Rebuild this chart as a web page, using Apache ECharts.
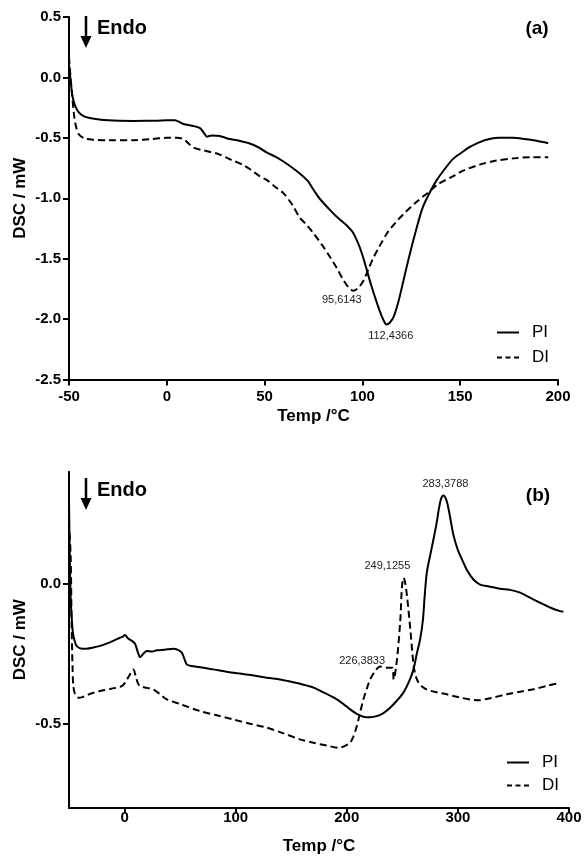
<!DOCTYPE html>
<html>
<head>
<meta charset="utf-8">
<script src="https://cdn.jsdelivr.net/npm/echarts@6/dist/echarts.min.js"></script>
<style>
  html, body { margin: 0; padding: 0; background: #fff; }
  #dsc { width: 585px; height: 856px; }
</style>
</head>
<body>
<div id="dsc"></div>
<script>
// (a) DSC curves, temp in °C, signal in mW
var piTempA = [-50, -49, -48.3, -47, -45, -42, -38, -30, -17, -5, 0, 4, 6, 8.5, 13, 17, 19, 20.5, 23, 27, 31, 36, 42, 47, 51, 56, 60, 64, 68, 72, 75, 78, 83.6, 88, 92, 95, 98, 100, 102, 104.5, 107.5, 110, 112.4, 114, 116, 118.5, 121, 123.5, 126, 128.5, 131, 134.5, 138, 142, 146, 150, 155, 160, 165, 170, 177, 183, 189, 195];
var piValA  = [0.10, -0.05, -0.15, -0.23, -0.29, -0.325, -0.34, -0.355, -0.36, -0.358, -0.355, -0.355, -0.365, -0.385, -0.40, -0.42, -0.46, -0.49, -0.48, -0.485, -0.505, -0.52, -0.545, -0.58, -0.62, -0.66, -0.70, -0.745, -0.795, -0.855, -0.93, -1.00, -1.10, -1.17, -1.225, -1.28, -1.38, -1.47, -1.58, -1.72, -1.87, -1.98, -2.045, -2.03, -1.98, -1.85, -1.68, -1.51, -1.35, -1.20, -1.07, -0.95, -0.85, -0.76, -0.68, -0.63, -0.575, -0.535, -0.51, -0.50, -0.50, -0.51, -0.525, -0.545];
var diTempA = [-50, -49.2, -48.6, -47.5, -46.5, -45, -42, -38, -30, -17, -8, 0, 5, 8.5, 11, 13.6, 19, 25.6, 30, 34, 38.5, 42.6, 47.7, 51.2, 55, 59.7, 64, 68, 71.5, 75, 79.5, 83.6, 87, 90.4, 93, 95.5, 98, 100.6, 103, 105.7, 109, 112.6, 117, 121.1, 127, 133, 139, 145, 151.8, 160.3, 168, 177.4, 186, 195];
var diValA  = [0.17, 0.0, -0.11, -0.30, -0.40, -0.47, -0.505, -0.515, -0.52, -0.52, -0.51, -0.50, -0.50, -0.51, -0.545, -0.58, -0.605, -0.63, -0.66, -0.69, -0.72, -0.76, -0.82, -0.85, -0.90, -0.96, -1.05, -1.16, -1.22, -1.29, -1.39, -1.49, -1.58, -1.68, -1.74, -1.765, -1.74, -1.68, -1.59, -1.49, -1.39, -1.29, -1.20, -1.13, -1.04, -0.96, -0.88, -0.83, -0.77, -0.72, -0.69, -0.67, -0.66, -0.66];
var peakTempA = [95.6143, 112.4366];
var peakValA  = [-1.765, -2.045];

// (b)
var piTempB = [-50, -49.3, -48.5, -47.6, -46.5, -45.2, -43, -38, -34, -28, -22, -15, -7, -2, 0.5, 3, 7, 9.5, 12, 14, 17, 20, 25, 29, 36, 44, 48, 51.5, 54, 56, 60, 68, 80, 98, 115, 128, 140, 150, 158, 165, 170, 180, 191, 197, 203, 209, 215, 221, 227, 233, 239, 245, 251, 256, 260, 263, 266, 268.5, 270, 272, 275, 278, 281, 283, 285, 287.2, 289.5, 291.7, 294, 296.2, 300, 303.7, 308, 314, 320, 328, 338, 347, 356, 365, 374, 383, 392, 395];
var piValB  = [0.30, 0.10, -0.05, -0.12, -0.175, -0.20, -0.223, -0.232, -0.232, -0.228, -0.222, -0.212, -0.198, -0.19, -0.183, -0.195, -0.205, -0.215, -0.245, -0.262, -0.25, -0.24, -0.242, -0.238, -0.236, -0.232, -0.236, -0.246, -0.27, -0.288, -0.294, -0.298, -0.306, -0.318, -0.327, -0.336, -0.342, -0.35, -0.357, -0.365, -0.371, -0.39, -0.413, -0.43, -0.449, -0.465, -0.475, -0.477, -0.473, -0.462, -0.443, -0.418, -0.389, -0.35, -0.306, -0.25, -0.199, -0.13, -0.05, 0.039, 0.10, 0.158, 0.22, 0.27, 0.305, 0.315, 0.30, 0.265, 0.215, 0.17, 0.12, 0.087, 0.05, 0.015, -0.003, -0.01, -0.018, -0.022, -0.032, -0.05, -0.068, -0.085, -0.098, -0.10];
var diTempB = [-49.5, -48.5, -47.6, -46.8, -46.1, -44.5, -41.6, -38, -30, -22, -12, -2.5, 1, 4, 7.9, 10, 12, 14, 20, 26, 32, 38, 50, 68, 83, 98, 113, 128, 140, 158, 170, 182, 192.6, 198, 203, 206, 209, 212, 215, 218, 221, 225, 230, 235, 240.8, 242.2, 245.2, 248.2, 249.7, 251.2, 252.7, 254.2, 257.2, 260.2, 262.5, 264.7, 268, 272, 280, 290, 300, 317, 330, 344, 356, 368, 380, 392];
var diValB  = [0.18, 0.10, -0.15, -0.30, -0.366, -0.395, -0.407, -0.405, -0.392, -0.383, -0.375, -0.366, -0.35, -0.33, -0.306, -0.33, -0.355, -0.366, -0.372, -0.378, -0.395, -0.413, -0.43, -0.455, -0.47, -0.485, -0.50, -0.514, -0.53, -0.556, -0.568, -0.578, -0.586, -0.58, -0.568, -0.545, -0.509, -0.46, -0.413, -0.375, -0.342, -0.315, -0.296, -0.30, -0.30, -0.342, -0.27, -0.128, -0.009, 0.021, 0.0, -0.044, -0.163, -0.294, -0.335, -0.354, -0.368, -0.378, -0.387, -0.395, -0.405, -0.416, -0.408, -0.395, -0.386, -0.377, -0.365, -0.354];
var peakTempB = [226.3833, 249.1255, 283.3788];
var peakValB  = [-0.296, 0.021, 0.315];

var xTicksB = [0, 100, 200, 300, 400];
var yTicksB = [-0.5, 0];

var FONT = '"Liberation Sans", Arial, Helvetica, sans-serif';

// legend keys: a plain bar and a dashed bar, 22 x 2
var ICON_SOLID = 'path://M0,0h22v2h-22z';
var ICON_DASH = 'path://M0,0h5v2h-5z M8.5,0h5v2h-5z M17,0h5v2h-5z';

function pairs(xs, ys) {
    var out = [];
    for (var i = 0; i < xs.length; i++) out.push([xs[i], ys[i]]);
    return out;
}

// peak labels sit next to the extreme point
function peakMarks(temps, vals, offsets) {
    var d = [];
    for (var i = 0; i < temps.length; i++) {
        d.push({
            name: String(temps[i]).replace('.', ','),
            coord: [temps[i], vals[i]],
            label: { offset: offsets[i] }
        });
    }
    return {
        symbol: 'circle',
        symbolSize: 0,
        silent: true,
        itemStyle: { color: 'transparent' },
        label: {
            show: true, position: 'inside', formatter: '{b}',
            color: '#222', fontSize: 11, fontFamily: FONT
        },
        data: d
    };
}

function endoMark(top) {
    return {
        type: 'group',
        children: [
            { type: 'line', shape: { x1: 86, y1: top, x2: 86, y2: top + 22 },
              style: { stroke: '#000', lineWidth: 2.5 } },
            { type: 'polygon', shape: { points: [[80.5, top + 20], [91.5, top + 20], [86, top + 32]] },
              style: { fill: '#000' } },
            { type: 'text', x: 97, y: top + 12,
              style: { text: 'Endo', font: 'bold 20px ' + FONT, fill: '#000', verticalAlign: 'middle' } }
        ]
    };
}

var axisBase = {
    axisLine: { onZero: false, lineStyle: { color: '#000', width: 2 } },
    axisTick: { show: true, length: 6, lineStyle: { color: '#000', width: 2 } },
    splitLine: { show: false },
    nameMoveOverlap: false,
    nameTextStyle: { color: '#000', fontWeight: 'bold', fontSize: 17, fontFamily: FONT }
};

function ax(extra) {
    var o = JSON.parse(JSON.stringify(axisBase));
    for (var k in extra) o[k] = extra[k];
    return o;
}

var tickFont = { color: '#000', fontWeight: 'bold', fontSize: 15, fontFamily: FONT };

function lbl(extra) {
    var o = {};
    for (var k in tickFont) o[k] = tickFont[k];
    for (var j in extra) o[j] = extra[j];
    return o;
}

function legendAt(left, top, gap) {
    return {
        orient: 'vertical', left: left, top: top, padding: 0,
        itemWidth: 22, itemHeight: 2, itemGap: gap,
        selectedMode: false,
        data: [{ name: 'PI', icon: ICON_SOLID }, { name: 'DI', icon: ICON_DASH }],
        itemStyle: { color: '#000', borderWidth: 0 },
        lineStyle: { width: 0 },
        textStyle: { color: '#000', fontSize: 17, fontFamily: FONT, padding: [0, 0, 0, 8] }
    };
}

var solid = { color: '#000', width: 2 };
var dashed = { color: '#000', width: 2, type: [7, 4] };

var chart = echarts.init(document.getElementById('dsc'), null, { renderer: 'canvas' });

chart.setOption({
    backgroundColor: '#fff',
    animation: false,
    grid: [
        { left: 69, top: 17, width: 489, height: 362.5 },
        { left: 69, top: 471.7, width: 500, height: 336 }
    ],
    xAxis: [
        ax({ gridIndex: 0, type: 'value', min: -50, max: 200, interval: 50,
             name: 'Temp /°C', nameLocation: 'middle', nameGap: 28,
             axisLabel: lbl({ margin: 10 }) }),
        ax({ gridIndex: 1, type: 'value', min: -50, max: 400,
             name: 'Temp /°C', nameLocation: 'middle', nameGap: 30,
             axisTick: { show: true, length: 5, customValues: xTicksB, lineStyle: { color: '#000', width: 2 } },
             axisLabel: lbl({ margin: 3, customValues: xTicksB }) })
    ],
    yAxis: [
        ax({ gridIndex: 0, type: 'value', min: -2.5, max: 0.5, interval: 0.5,
             name: 'DSC / mW', nameLocation: 'middle', nameGap: 40,
             axisLabel: lbl({ margin: 8, formatter: function (v) { return v.toFixed(1); } }) }),
        ax({ gridIndex: 1, type: 'value', min: -0.8, max: 0.4,
             name: 'DSC / mW', nameLocation: 'middle', nameGap: 40,
             axisTick: { show: true, length: 6, customValues: yTicksB, lineStyle: { color: '#000', width: 2 } },
             axisLabel: lbl({ margin: 8, customValues: yTicksB, formatter: function (v) { return v.toFixed(1); } }) })
    ],
    legend: [
        legendAt(497, 324, 8),
        legendAt(507, 754, 6)
    ],
    graphic: [
        endoMark(16),
        endoMark(478),
        { type: 'text', x: 537, y: 29,
          style: { text: '(a)', font: 'bold 19px ' + FONT, fill: '#000', align: 'center', verticalAlign: 'middle' } },
        { type: 'text', x: 538, y: 496,
          style: { text: '(b)', font: 'bold 19px ' + FONT, fill: '#000', align: 'center', verticalAlign: 'middle' } }
    ],
    series: [
        { name: 'PI', type: 'line', xAxisIndex: 0, yAxisIndex: 0, symbol: 'none', smooth: 0.3,
          lineStyle: solid, itemStyle: { color: '#000' }, data: pairs(piTempA, piValA),
          markPoint: peakMarks([peakTempA[1]], [peakValA[1]], [[4, 11]]) },
        { name: 'DI', type: 'line', xAxisIndex: 0, yAxisIndex: 0, symbol: 'none', smooth: 0.3,
          lineStyle: dashed, itemStyle: { color: '#000' }, data: pairs(diTempA, diValA),
          markPoint: peakMarks([peakTempA[0]], [peakValA[0]], [[-12, 9]]) },
        { name: 'PI', type: 'line', xAxisIndex: 1, yAxisIndex: 1, symbol: 'none', smooth: 0.3,
          lineStyle: solid, itemStyle: { color: '#000' }, data: pairs(piTempB, piValB),
          markPoint: peakMarks([peakTempB[2]], [peakValB[2]], [[6, -12]]) },
        { name: 'DI', type: 'line', xAxisIndex: 1, yAxisIndex: 1, symbol: 'none', smooth: 0.3,
          lineStyle: dashed, itemStyle: { color: '#000' }, data: pairs(diTempB, diValB),
          markPoint: peakMarks([peakTempB[0], peakTempB[1]], [peakValB[0], peakValB[1]], [[-14, -6], [-14, -12]]) }
    ]
});
</script>
</body>
</html>
